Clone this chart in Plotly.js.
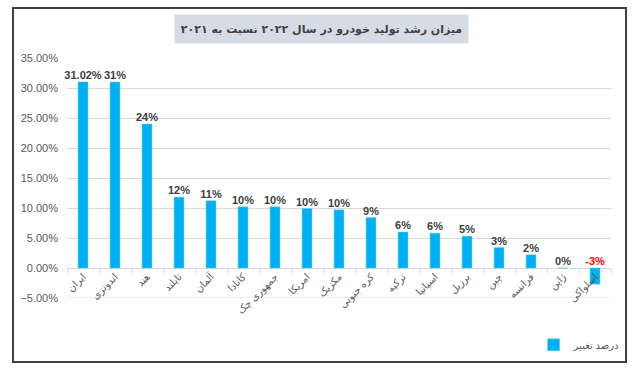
<!DOCTYPE html>
<html>
<head>
<meta charset="utf-8">
<script src="https://cdn.plot.ly/plotly-3.0.1.min.js"></script>
<style>html,body{margin:0;padding:0;background:#fff;}#chart{width:641px;height:374px;}</style>
</head>
<body>
<div id="chart"></div>
<script>
const categories = ["ایران","اندونزی","هند","تایلند","آلمان","کانادا","جمهوری چک","امریکا","مکزیک","کره جنوبی","ترکیه","اسپانیا","برزیل","چین","فرانسه","ژاپن","اسلواکی"];
const growth = [31.02, 31.0, 24.0, 11.8, 11.2, 10.2, 10.2, 9.9, 9.7, 8.4, 6.0, 5.8, 5.3, 3.4, 2.2, 0.0, -2.7];
const labels = ["31.02%","31%","24%","12%","11%","10%","10%","10%","10%","9%","6%","6%","5%","3%","2%","0%","-3%"];
const yTicks = [-5, 0, 5, 10, 15, 20, 25, 30, 35];
const seriesName = "درصد تغییر";
const titleText = "میزان رشد تولید خودرو در سال ۲۰۲۲ نسبت به ۲۰۲۱";

const font = "Liberation Sans, DejaVu Sans, sans-serif";
const yVals = growth.map(v => v / 100);

const bars = {
  type: 'bar', x: categories, y: yVals, name: seriesName,
  marker: {color: '#00B0F0', line: {color: '#5BC8F5', width: 0.5}},
  hoverinfo: 'x+y'
};
const textTrace = {
  type: 'scatter', mode: 'text', x: categories,
  y: yVals.map(v => Math.max(v, 0)),
  text: labels, textposition: 'top center',
  textfont: {family: font, size: 11, color: growth.map(v => v < 0 ? '#FF0000' : '#404040'), weight: 'bold'},
  showlegend: false, hoverinfo: 'skip', cliponaxis: false
};

const layout = {
  width: 641, height: 374,
  margin: {l: 67, r: 30, t: 58, b: 76},
  paper_bgcolor: '#fff', plot_bgcolor: '#fff',
  bargap: 0.69,
  showlegend: true,
  legend: {x: 1.025, xanchor: 'right', y: -0.195, yanchor: 'middle', font: {family: font, size: 10, color: '#595959'}, bgcolor: 'rgba(0,0,0,0)', itemwidth: 30},
  xaxis: {
    type: 'category', anchor: 'free', position: 0.125, automargin: false,
    range: [-0.5, categories.length - 0.5],
    tickangle: -45, ticks: 'outside', ticklen: 4, tickcolor: '#D9D9D9',
    tickson: 'boundaries', showline: false, showgrid: false,
    tickfont: {family: font, size: 10, color: '#595959'},
    fixedrange: true
  },
  yaxis: {
    range: [-0.05, 0.35], tickvals: yTicks.map(v => v / 100), automargin: false,
    tickformat: '.2%', showline: false, zeroline: true, zerolinecolor: '#D9D9D9', zerolinewidth: 1,
    gridcolor: '#D9D9D9', gridwidth: 1,
    tickfont: {family: font, size: 11, color: '#595959'},
    ticklabelstandoff: 8, fixedrange: true
  },
  shapes: [
    {type: 'rect', xref: 'paper', yref: 'paper', x0: -0.0993, x1: 1.0276, y0: -0.2667, y1: 1.2083,
     line: {color: '#404040', width: 2}, fillcolor: 'rgba(0,0,0,0)', layer: 'below'},
    {type: 'line', xref: 'paper', yref: 'y', x0: 0, x1: 1, y0: -0.05, y1: -0.05,
     line: {color: '#D9D9D9', width: 1}, layer: 'below'}
  ],
  annotations: [
    {xref: 'paper', yref: 'paper', x: (321 - 67) / 544, y: (298 - 29) / 240, xanchor: 'center', yanchor: 'middle',
     text: '<b>' + titleText + '</b>', showarrow: false,
     font: {family: 'DejaVu Sans, sans-serif', size: 11, color: '#404040'},
     bgcolor: '#D6DCE5', borderpad: 6, width: 281, height: 16}
  ]
};

Plotly.newPlot('chart', [bars, textTrace], layout, {displayModeBar: false, staticPlot: true});
</script>
</body>
</html>
